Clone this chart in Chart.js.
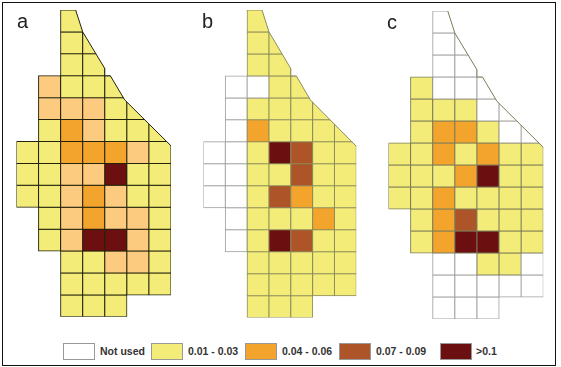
<!DOCTYPE html>
<html>
<head>
<meta charset="utf-8">
<script src="https://cdn.jsdelivr.net/npm/chart.js@4"></script>
<style>
    html, body { margin: 0; padding: 0; background: #fff; }
    #frame { position: absolute; left: 2px; top: 2px; width: 552px; height: 362px; border: 1px solid #111; }
    canvas { position: absolute; }
    .letter { position: absolute; font: 20px "Liberation Sans", Arial, sans-serif; color: #222; line-height: 20px; }
    .swatch { position: absolute; top: 343px; width: 30px; height: 15px; border: 1px solid #999; }
    .legendText { position: absolute; top: 344px; font: bold 10.5px "Liberation Sans", Arial, sans-serif; color: #333; line-height: 14px; white-space: nowrap; }
</style>
</head>
<body>
<div id="frame"></div>
<script>
// class codes: 0 not used, 1-4 legend classes, 5 light orange (only in panel a)
const classColors = ['#ffffff', '#f4ec78', '#f2a42d', '#ad5529', '#6c0f10', '#fccb80'];

const columns = [0, 1, 2, 3, 4, 5, 6];
const rowCount = 14;

const panelA = [
    [null, null, 1, null, null, null, null],
    [null, null, 1, 1, null, null, null],
    [null, null, 1, 1, null, null, null],
    [null, 5, 1, 1, 1, null, null],
    [null, 5, 5, 5, 1, 1, null],
    [null, 1, 2, 5, 1, 1, 1],
    [1, 1, 2, 2, 2, 5, 1],
    [1, 1, 5, 5, 4, 1, 1],
    [1, 1, 5, 2, 5, 1, 1],
    [null, 1, 5, 2, 5, 5, 1],
    [null, 1, 5, 4, 4, 5, 1],
    [null, null, 1, 1, 5, 5, 1],
    [null, null, 1, 1, 1, 1, 1],
    [null, null, 1, 1, 1, null, null]
];

const panelB = [
    [null, null, 1, null, null, null, null],
    [null, null, 1, 1, null, null, null],
    [null, null, 1, 1, null, null, null],
    [null, 0, 0, 1, 1, null, null],
    [null, 0, 1, 1, 1, 1, null],
    [null, 0, 2, 1, 1, 1, 1],
    [0, 0, 1, 4, 3, 1, 1],
    [0, 0, 1, 1, 3, 1, 1],
    [0, 0, 1, 3, 2, 1, 1],
    [null, 0, 1, 1, 1, 2, 1],
    [null, 0, 1, 4, 3, 1, 1],
    [null, null, 1, 1, 1, 1, 1],
    [null, null, 1, 1, 1, 1, 1],
    [null, null, 1, 1, 1, null, null]
];

const panelC = [
    [null, null, 0, null, null, null, null],
    [null, null, 0, 0, null, null, null],
    [null, null, 0, 0, null, null, null],
    [null, 1, 0, 0, 0, null, null],
    [null, 1, 1, 1, 0, 0, null],
    [null, 1, 2, 2, 1, 0, 0],
    [1, 1, 2, 1, 2, 1, 1],
    [1, 1, 1, 2, 4, 1, 1],
    [1, 1, 2, 1, 1, 1, 1],
    [null, 1, 2, 3, 1, 1, 1],
    [null, 1, 2, 4, 4, 1, 1],
    [null, null, 0, 0, 1, 1, 0],
    [null, null, 0, 0, 0, 0, 0],
    [null, null, 0, 0, 0, null, null]
];

// outline of the diagonal edge, in [column, row] grid units
const coastColumns = [2.68, 3, 4, 4, 4.25, 4.9, 5.73, 7];
const coastRows = [0, 1, 2.67, 3, 3, 4.1, 4.93, 6.2];

const legendLabels = ['Not used', '0.01 - 0.03', '0.04 - 0.06', '0.07 - 0.09', '>0.1'];
const legendSwatchX = [63, 151, 245, 339, 440];
const legendTextX = [100, 188, 282, 376, 476];

const coastPlugin = {
    id: 'coast',
    beforeDatasetsDraw(chart) {
        const { x, y } = chart.scales;
        const colX = c => x.getPixelForValue(0) + (c - 0.5) * (x.getPixelForValue(1) - x.getPixelForValue(0));
        const ctx = chart.ctx;
        ctx.save();
        ctx.beginPath();
        ctx.moveTo(colX(-0.2), y.getPixelForValue(-0.2));
        ctx.lineTo(colX(coastColumns[0]), y.getPixelForValue(-0.2));
        coastColumns.forEach((c, i) => ctx.lineTo(colX(c), y.getPixelForValue(coastRows[i])));
        ctx.lineTo(colX(7.2), y.getPixelForValue(coastRows[coastRows.length - 1]));
        ctx.lineTo(colX(7.2), y.getPixelForValue(14.2));
        ctx.lineTo(colX(-0.2), y.getPixelForValue(14.2));
        ctx.closePath();
        ctx.clip();
    },
    afterDatasetsDraw(chart, args, options) {
        const { x, y } = chart.scales;
        const colX = c => x.getPixelForValue(0) + (c - 0.5) * (x.getPixelForValue(1) - x.getPixelForValue(0));
        const ctx = chart.ctx;
        ctx.restore();
        ctx.save();
        ctx.strokeStyle = options.color;
        ctx.lineWidth = 1;
        ctx.beginPath();
        coastColumns.forEach((c, i) => {
            const px = colX(c), py = y.getPixelForValue(coastRows[i]);
            if (i === 0) ctx.moveTo(px, py); else ctx.lineTo(px, py);
        });
        ctx.stroke();
        ctx.restore();
    }
};

function createPanel(grid, left, top, width, height, lineColor, emptyLine) {
    const canvas = document.createElement('canvas');
    const pad = 4;
    canvas.width = Math.ceil(width) + pad * 2;
    canvas.height = Math.ceil(height) + pad * 2;
    canvas.style.left = (Math.floor(left) - pad) + 'px';
    canvas.style.top = (Math.floor(top) - pad) + 'px';
    document.body.appendChild(canvas);

    const datasets = grid.map((row, r) => ({
        data: row.map(v => v === null ? null : [r, r + 1]),
        backgroundColor: row.map(v => classColors[v === null ? 0 : v]),
        borderColor: row.map(v => v === 0 ? emptyLine : lineColor),
        borderWidth: 1,
        borderSkipped: false,
        inflateAmount: 0.5,
        barPercentage: 1,
        categoryPercentage: 1,
        grouped: false
    }));

    return new Chart(canvas, {
        type: 'bar',
        data: { labels: columns, datasets: datasets },
        options: {
            responsive: false,
            animation: false,
            layout: {
                padding: {
                    left: pad + left - Math.floor(left),
                    top: pad + top - Math.floor(top),
                    right: canvas.width - pad - (left - Math.floor(left)) - width,
                    bottom: canvas.height - pad - (top - Math.floor(top)) - height
                }
            },
            plugins: { legend: { display: false }, tooltip: { enabled: false }, coast: { color: lineColor } },
            scales: {
                x: { display: false, grid: { display: false } },
                y: { display: false, reverse: true, min: 0, max: rowCount, grid: { display: false } }
            }
        },
        plugins: [coastPlugin]
    });
}

createPanel(panelA, 16.5, 10, 154.5, 306.8, '#23230c', '#23230c');
createPanel(panelB, 203.5, 10, 152.8, 307.6, '#8c8c5c', '#a0a0a0');
createPanel(panelC, 388.5, 11, 154.8, 308, '#7c7c58', '#a0a0a0');

function addLetter(text, x, y) {
    const el = document.createElement('div');
    el.className = 'letter';
    el.textContent = text;
    el.style.left = x + 'px';
    el.style.top = y + 'px';
    document.body.appendChild(el);
}
addLetter('a', 17, 11);
addLetter('b', 202, 11);
addLetter('c', 387, 12);

legendLabels.forEach((label, i) => {
    const box = document.createElement('div');
    box.className = 'swatch';
    box.style.left = legendSwatchX[i] + 'px';
    box.style.background = classColors[i];
    document.body.appendChild(box);
    const text = document.createElement('div');
    text.className = 'legendText';
    text.textContent = label;
    text.style.left = legendTextX[i] + 'px';
    document.body.appendChild(text);
});
</script>
</body>
</html>
